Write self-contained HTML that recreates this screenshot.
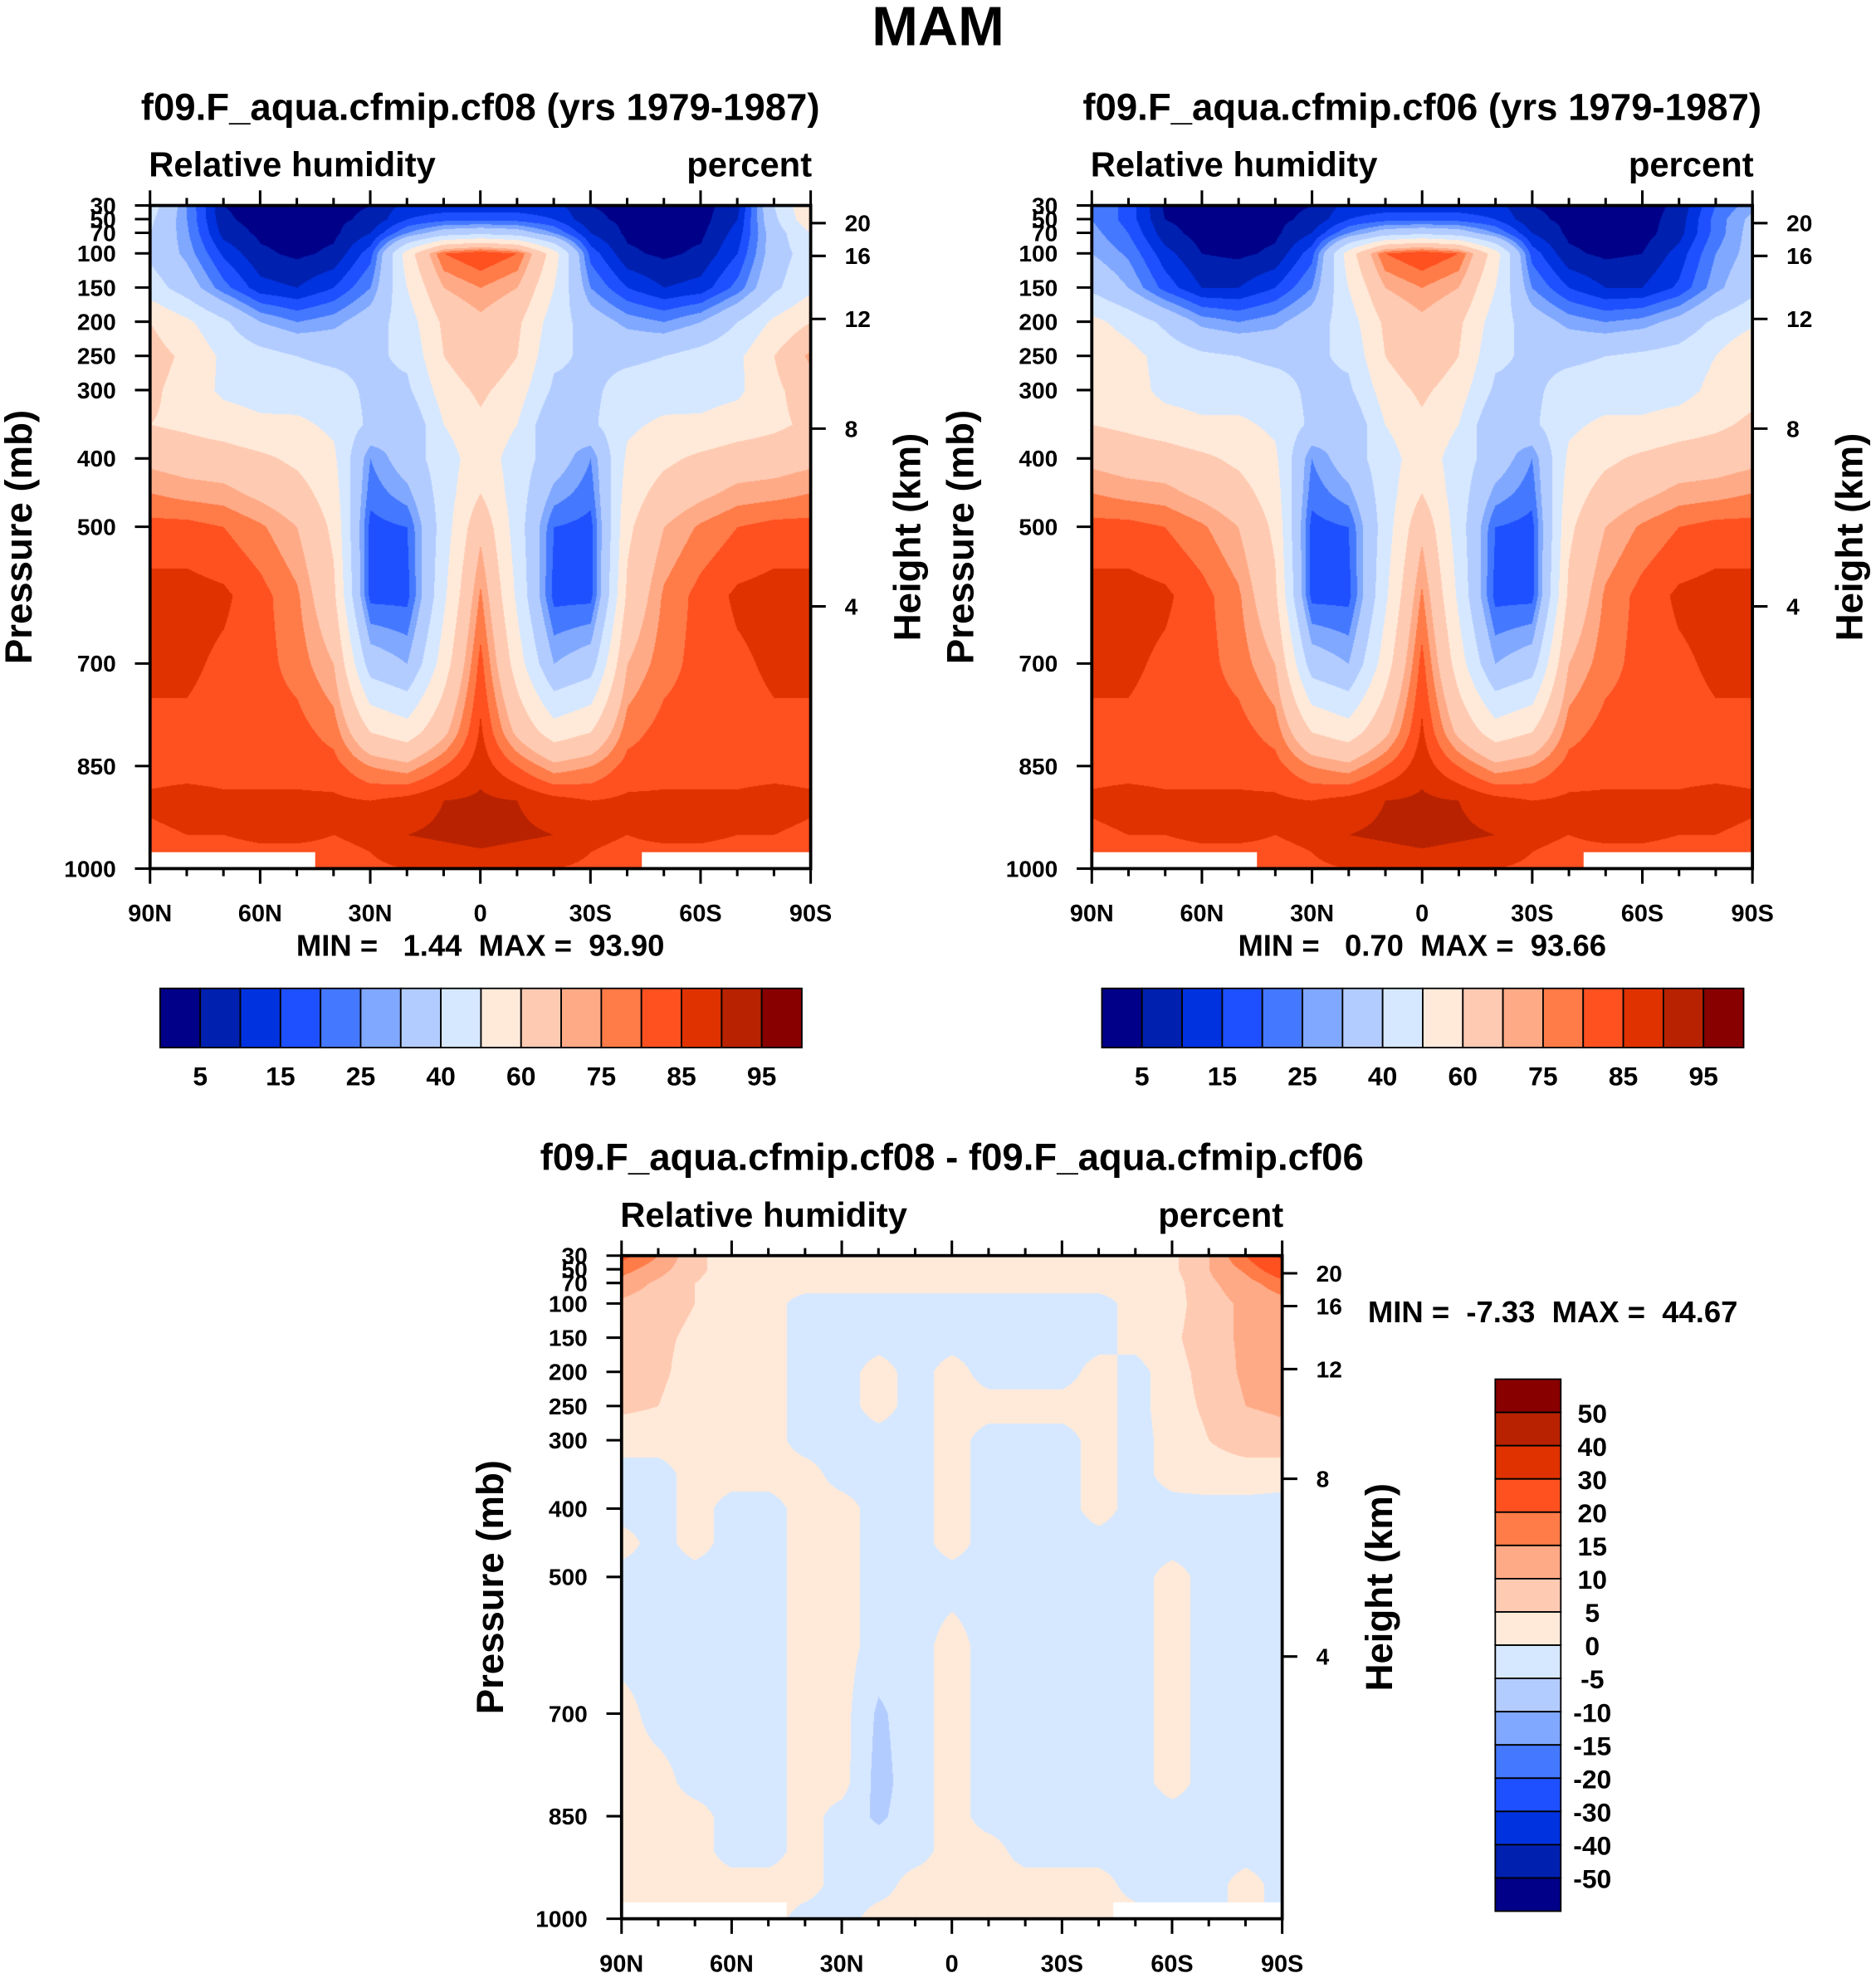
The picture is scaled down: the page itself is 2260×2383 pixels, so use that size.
<!DOCTYPE html>
<html><head><meta charset="utf-8">
<style>
html,body{margin:0;padding:0;background:#fff;}
body{width:2260px;height:2383px;position:relative;overflow:hidden;}
canvas{position:absolute;}
svg{position:absolute;left:0;top:0;}
text{font-family:"Liberation Sans",Arial,sans-serif;font-weight:bold;fill:#000;}
</style></head>
<body>
<canvas id="c1"></canvas>
<canvas id="c2"></canvas>
<canvas id="c3"></canvas>
<svg id="ov" width="2260" height="2383" viewBox="0 0 1488 1569">
<text x="744" y="36" font-size="44" text-anchor="middle">MAM</text>
<g id="layer"></g>
</svg>
<script>
// ---- data ----
const lats=[90,80,70,60,50,40,30,20,10,0,-10,-20,-30,-40,-50,-60,-70,-80,-90];
const pLevels=[30,50,70,100,150,200,250,300,350,400,450,500,600,700,800,850,900,950,1000];
const rhCf08=[
[45,25,5,3,3,4,5,12,12,12,12,12,5,4,3,3,8,40,60],
[42,25,6,3,3,4,6,15,18,18,18,15,6,4,3,3,10,38,58],
[40,26,8,4,3,4,10,25,35,38,35,25,10,4,3,4,12,35,50],
[38,28,14,6,4,6,18,55,80,85,80,55,18,6,4,6,15,35,45],
[45,35,22,12,10,15,25,50,70,75,70,50,25,15,10,12,22,38,48],
[60,52,42,30,25,28,35,45,62,68,62,45,35,28,25,30,40,52,60],
[64,58,48,44,40,38,38,42,60,68,60,42,38,38,40,44,48,60,72],
[62,56,48,46,45,44,38,38,55,62,55,38,38,44,45,46,48,58,65],
[60,58,55,52,52,48,38,30,50,58,50,30,38,48,52,52,55,58,62],
[68,66,65,62,58,52,25,35,45,56,45,35,25,52,58,62,65,66,68],
[75,73,72,68,64,55,22,28,45,60,45,28,22,55,64,68,72,73,75],
[82,82,80,76,70,58,18,20,45,68,45,20,18,58,70,76,80,82,82],
[87,87,86,82,76,62,18,18,48,76,48,18,18,62,76,82,86,87,87],
[86,86,84,82,78,70,35,30,55,82,55,30,35,70,78,82,84,86,86],
[84,84,83,82,82,78,60,55,68,86,68,55,60,78,82,82,83,84,84],
[83,83,83,83,83,82,75,72,80,88,80,72,75,82,83,83,83,83,83],
[86,87,86,86,86,86,85,87,90,91,90,87,85,86,86,86,86,87,86],
[84,85,85,86,86,85,86,90,91,92,91,90,86,85,86,86,85,85,84],
[82,82,82,82,82,83,84,85,86,87,86,85,84,83,82,82,82,82,82]];
const rhCf06=[
[25,18,4,3,3,4,5,12,12,12,12,12,5,4,3,3,6,20,28],
[25,18,5,3,3,4,6,15,18,18,18,15,6,4,3,3,7,22,32],
[27,20,7,3,3,4,10,25,35,38,35,25,10,4,3,3,8,22,33],
[30,24,12,5,4,6,18,55,80,85,80,55,18,6,4,5,12,25,33],
[38,30,18,10,10,15,25,50,70,75,70,50,25,15,10,10,16,28,37],
[53,46,38,28,25,28,35,45,62,68,62,45,35,28,25,27,33,42,48],
[58,54,46,42,40,38,38,42,60,68,60,42,38,38,40,42,44,50,60],
[60,55,47,45,45,44,38,38,55,62,55,38,38,44,45,45,46,53,57],
[60,58,55,52,52,48,38,30,50,58,50,30,38,48,52,52,55,58,62],
[68,66,65,62,58,52,25,35,45,56,45,35,25,52,58,62,65,66,68],
[75,73,72,68,64,55,22,28,45,60,45,28,22,55,64,68,72,73,75],
[82,82,80,76,70,58,18,20,45,68,45,20,18,58,70,76,80,82,82],
[87,87,86,82,76,62,18,18,48,76,48,18,18,62,76,82,86,87,87],
[86,86,84,82,78,70,35,30,55,82,55,30,35,70,78,82,84,86,86],
[84,84,83,82,82,78,60,55,68,86,68,55,60,78,82,82,83,84,84],
[83,83,83,83,83,82,75,72,80,88,80,72,75,82,83,83,83,83,83],
[86,87,86,86,86,86,85,87,90,91,90,87,85,86,86,86,86,87,86],
[84,85,85,86,86,85,86,90,91,92,91,90,86,85,86,86,85,85,84],
[82,82,82,82,82,83,84,85,86,87,86,85,84,83,82,82,82,82,82]];
const rhDiff=[
[22,15,6,3,2,2,2,2,2,2,2,2,2,2,2,4,10,20,32],
[17,12,6,3,2,2,2,2,2,2,2,2,2,2,2,4,10,16,25],
[13,9,5,3,2,2,2,2,2,2,2,2,2,2,2,3,9,13,18],
[9,7,5,3,2,-2,-2,-2,-2,-2,-2,-2,-2,-2,2,3,8,11,13],
[8,6,4,2,2,-2,-2,-2,-2,-2,-2,-2,-2,-2,2,4,8,11,12],
[7,6,3,2,2,-2,-2,2,-2,2,-2,-2,-2,2,-2,3,7,11,12],
[6,5,2,2,2,-2,-2,2,-2,2,2,2,2,2,-2,3,6,10,11],
[2,2,2,2,2,-2,-2,-2,-2,2,-2,-2,-2,2,-2,2,5,7,8],
[-2,-2,2,2,2,2,-2,-2,-2,2,-2,-2,-2,2,-2,2,3,3,2],
[-2,-2,2,-2,-2,2,2,-2,-2,2,-2,-2,-2,2,-2,-2,-2,-2,-2],
[2,-2,2,-2,-2,2,2,-2,-2,2,-2,-2,-2,-2,-2,-2,-2,-2,-2],
[-2,-2,-2,-2,-2,2,2,-2,-2,-2,-2,-2,-2,-2,-2,2,-2,-2,-2],
[-2,-2,-2,-2,-2,2,2,-2,-2,2,-2,-2,-2,-2,-2,2,-2,-2,-2],
[2,-2,-2,-2,-2,2,2,-6,-2,2,-2,-2,-2,-2,-2,2,-2,-2,-2],
[2,2,-2,-2,-2,2,2,-7,-2,2,-2,-2,-2,-2,-2,2,-2,-2,-2],
[2,2,2,-2,-2,2,-2,-6,-2,2,-2,-2,-2,-2,-2,-2,-2,-2,-2],
[2,2,2,-2,-2,2,-2,-2,-2,2,2,-2,-2,-2,-2,-2,-2,-2,-2],
[2,2,2,2,2,2,-2,-2,2,2,2,2,2,2,-2,-2,-2,2,-2],
[2,2,2,2,2,-2,-2,2,2,2,2,2,2,2,2,-2,-2,2,-2]];
const rhLevels=[5,10,15,20,25,30,40,50,60,70,75,80,85,90,95];
const diffLevels=[-50,-40,-30,-20,-15,-10,-5,0,5,10,15,20,30,40,50];
const rhLabels=["5","15","25","40","60","75","85","95"];
const diffLabels=["50","40","30","20","15","10","5","0","-5","-10","-15","-20","-30","-40","-50"];
const pTicks=[30,50,70,100,150,200,250,300,400,500,700,850,1000];
const hTicks=[[20,177],[16,203],[12,253],[8,340],[4,481]];
const latTicks=["90N","60N","30N","0","30S","60S","90S"];
const palette=["#000088","#0020b0","#0032e0","#1e50ff","#4478ff","#80a8ff","#b3ccff","#d6e8ff","#ffeada","#ffcab2","#ffaa86","#ff7b48","#ff5020","#e03200","#b82200","#880000"];

const S=2260/1488;
const PW=524, PH=526;
function xScale(lat,x0){return x0+(90-lat)/180*PW;}
function yScale(p,y0){return y0+(p-30)/970*PH;}
function interp(f,lat,p){
  let fj=(90-lat)/10; let j=Math.min(17,Math.floor(fj)); let tj=fj-j;
  let i=0; while(i<pLevels.length-2 && p>pLevels[i+1]) i++;
  let ti=(p-pLevels[i])/(pLevels[i+1]-pLevels[i]);
  const a=f[i][j]*(1-tj)+f[i][j+1]*tj, b=f[i+1][j]*(1-tj)+f[i+1][j+1]*tj;
  return a*(1-ti)+b*ti;
}
function hex(c){return [parseInt(c.substr(1,2),16),parseInt(c.substr(3,2),16),parseInt(c.substr(5,2),16)];}
const pal=palette.map(hex);
function drawField(id,f,levels,x0,y0){
  const cv=document.getElementById(id);
  const W=Math.round(PW*S),H=Math.round(PH*S);
  cv.width=W;cv.height=H;
  cv.style.left=(x0*S)+'px';cv.style.top=(y0*S)+'px';
  const ctx=cv.getContext('2d');const img=ctx.createImageData(W,H);
  for(let py=0;py<H;py++){const p=30+970*(py+0.5)/H;
    for(let px=0;px<W;px++){const lat=90-180*(px+0.5)/W;
      const v=interp(f,lat,p);let k=0;while(k<levels.length&&v>=levels[k])k++;
      const c=pal[k];const o=(py*W+px)*4;img.data[o]=c[0];img.data[o+1]=c[1];img.data[o+2]=c[2];img.data[o+3]=255;}}
  ctx.putImageData(img,0,0);
}
drawField('c1',rhCf08,rhLevels,119,163);
drawField('c2',rhCf06,rhLevels,866,163);
drawField('c3',rhDiff,diffLevels,493,996);

const NS="http://www.w3.org/2000/svg";
const layer=document.getElementById('layer');
function el(tag,attrs,txt){const e=document.createElementNS(NS,tag);for(const k in attrs)e.setAttribute(k,attrs[k]);if(txt!==undefined)e.textContent=txt;layer.appendChild(e);return e;}

function panel(x0,y0,title,minmax,mmx,mmy,mmAnchor,pre){
  let e;
  e=el('text',{x:x0+PW/2,y:y0-68,'font-size':30,'text-anchor':'middle'},title);
  
  
  e=el('text',{x:x0-1,y:y0-23,'font-size':27.5},'Relative humidity');
  
  
  e=el('text',{x:x0+PW+1,y:y0-23,'font-size':27.5,'text-anchor':'end'},'percent');
  
  
  e=el('rect',{x:xScale(90,x0),y:yScale(976,y0),width:xScale(45,x0)-xScale(90,x0),height:yScale(1000,y0)-yScale(976,y0),fill:'#fff'});
  
  
  e=el('rect',{x:xScale(-44,x0),y:yScale(976,y0),width:xScale(-90,x0)-xScale(-44,x0),height:yScale(1000,y0)-yScale(976,y0),fill:'#fff'});
  
  
  e=el('rect',{x:x0,y:y0,width:PW,height:PH,fill:'none',stroke:'#000','stroke-width':2.5});
  
  
  for(let lat=90;lat>=-90;lat-=10){
    const x=xScale(lat,x0);const major=(lat%30===0);const L=major?12:6;
    el('line',{x1:x,y1:y0+PH,x2:x,y2:y0+PH+L,stroke:'#000','stroke-width':2});
    el('line',{x1:x,y1:y0,x2:x,y2:y0-L,stroke:'#000','stroke-width':2});
  }
  latTicks.forEach((t,i)=>{const x=xScale(90-30*i,x0);
    e=el('text',{x:x,y:y0+PH+42,'font-size':19,'text-anchor':'middle'},t);
    
    });
  pTicks.forEach(p=>{const y=yScale(p,y0);
    el('line',{x1:x0,y1:y,x2:x0-12,y2:y,stroke:'#000','stroke-width':2});
    e=el('text',{x:x0-27,y:y+6.5,'font-size':18.5,'text-anchor':'end'},String(p));
    
    });
  hTicks.forEach(h=>{const y=y0+(h[1]-163);
    el('line',{x1:x0+PW,y1:y,x2:x0+PW+12,y2:y,stroke:'#000','stroke-width':2});
    e=el('text',{x:x0+PW+27,y:y+6.5,'font-size':18.5},String(h[0]));
    
    });
  e=el('text',{x:0,y:0,'font-size':30,'text-anchor':'middle',transform:`translate(${x0-94},${y0+263}) rotate(-90)`},'Pressure (mb)');
  
  
  e=el('text',{x:0,y:0,'font-size':30,'text-anchor':'middle',transform:`translate(${x0+PW+87},${y0+263}) rotate(-90)`},'Height (km)');
  
  
  e=el('text',{x:mmx,y:mmy,'font-size':24,'text-anchor':mmAnchor,'xml:space':'preserve'},minmax);
  e.style.whiteSpace='pre';
  
  
}
panel(119,163,'f09.F_aqua.cfmip.cf08 (yrs 1979-1987)','MIN =   1.44  MAX =  93.90',381,758,'middle','p1');
panel(866,163,'f09.F_aqua.cfmip.cf06 (yrs 1979-1987)','MIN =   0.70  MAX =  93.66',1128,758,'middle','p2');
panel(493,996,'f09.F_aqua.cfmip.cf08 - f09.F_aqua.cfmip.cf06','MIN =  -7.33  MAX =  44.67',1085,1049,'start','p3');

function hbar(x0,pre){
  const y0=784,w=509/16,h=47;let e;
  palette.forEach((c,i)=>{e=el('rect',{x:x0+i*w,y:y0,width:w,height:h,fill:c,stroke:'#000','stroke-width':1.2});
    
    });
  rhLabels.forEach((t,i)=>{e=el('text',{x:x0+w*(1+2*i),y:861,'font-size':21,'text-anchor':'middle'},t);
    
    });
}
hbar(127,'p1');hbar(874,'p2');
(function(){
  const x0=1186,y0=1094,w=52,h=422/16;let e;
  for(let i=0;i<16;i++){e=el('rect',{x:x0,y:y0+i*h,width:w,height:h,fill:palette[15-i],stroke:'#000','stroke-width':1.2});
    
    }
  diffLabels.forEach((t,i)=>{e=el('text',{x:1263,y:y0+h*(i+1)+8,'font-size':21,'text-anchor':'middle'},t);
    
    });
})();
</script>
</body></html>
